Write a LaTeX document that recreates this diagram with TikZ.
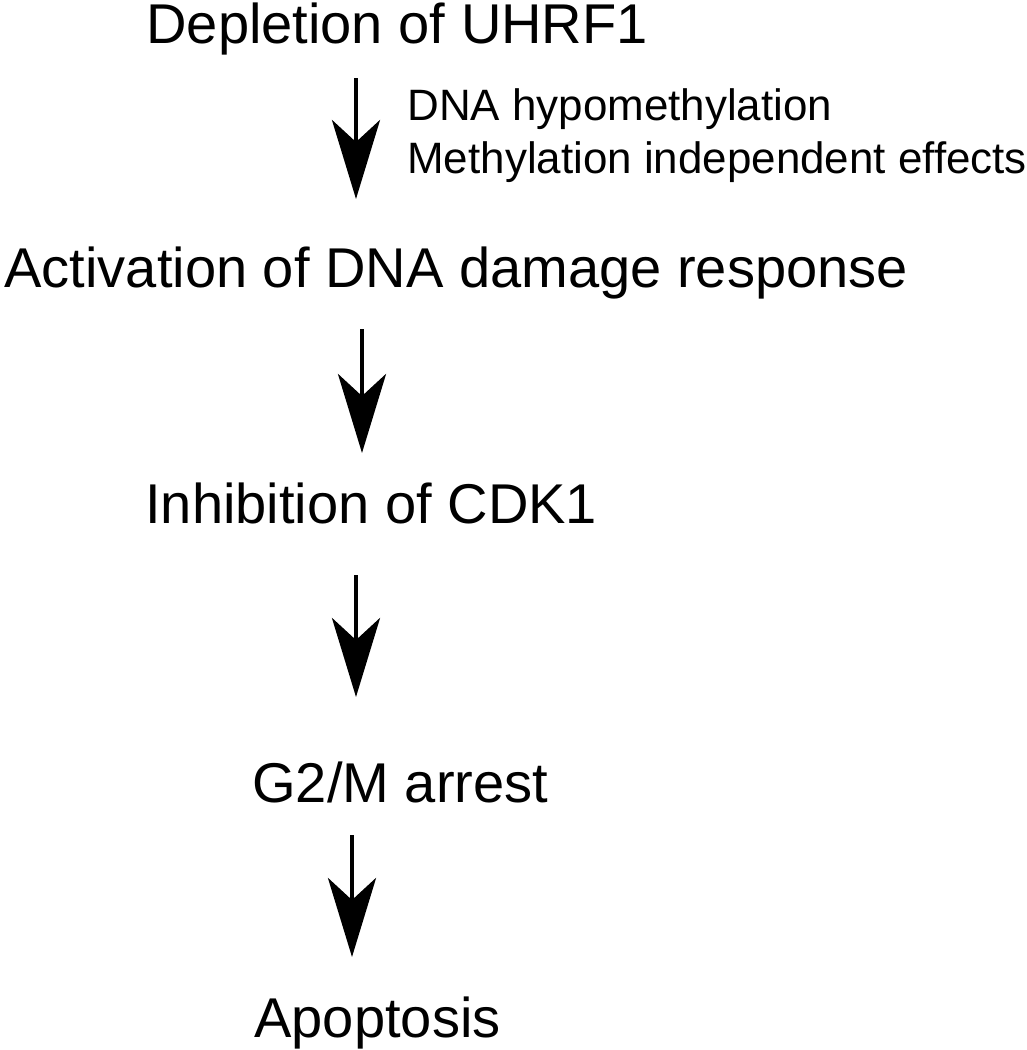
\documentclass[tikz,border=0pt]{standalone}
\usepackage{fontspec}
\setmainfont{Liberation Sans}
\usetikzlibrary{arrows.meta, positioning}
\tikzset{
  every picture/.style={line width=2.7pt},
  stage/.style={anchor=base west, inner sep=0pt, font=\fontsize{31.9}{38}\selectfont},
  note/.style={anchor=base west, inner sep=0pt, font=\fontsize{25}{30}\selectfont},
  arrow/.style={-{Stealth[length=1.58cm, width=0.96cm, inset=0.44cm]}, draw=black},
}
\begin{document}
\begin{tikzpicture}
  \useasboundingbox (0,0) rectangle (20.54,-21);
  % pathway steps
  \node[stage] (dep) at (2.88,-0.86) {Depletion of UHRF1};
  \node[stage] (act) at (0.04,-5.74) {Activation of DNA damage response};
  \node[stage] (inh) at (2.86,-10.46) {Inhibition of CDK1};
  \node[stage] (g2m) at (5.0,-16.04) {G2/M arrest};
  \node[stage] (apo) at (5.04,-20.74) {Apoptosis};
  % side label of first step
  \node[note] (hypo) at (8.1,-2.4) {DNA hypomethylation};
  \node[note] (indep) at (8.1,-3.46) {Methylation independent effects};
  % arrows
  \coordinate (a1) at (7.12,-1.56);
  \coordinate (b1) at (7.12,-3.98);
  \coordinate (a2) at (7.24,-6.58);
  \coordinate (b2) at (7.24,-9.06);
  \coordinate (a3) at (7.12,-11.5);
  \coordinate (b3) at (7.12,-13.94);
  \coordinate (a4) at (7.04,-16.7);
  \coordinate (b4) at (7.04,-19.14);
  \draw[arrow] (a1) -- (b1);
  \draw[arrow] (a2) -- (b2);
  \draw[arrow] (a3) -- (b3);
  \draw[arrow] (a4) -- (b4);
\end{tikzpicture}
\end{document}
